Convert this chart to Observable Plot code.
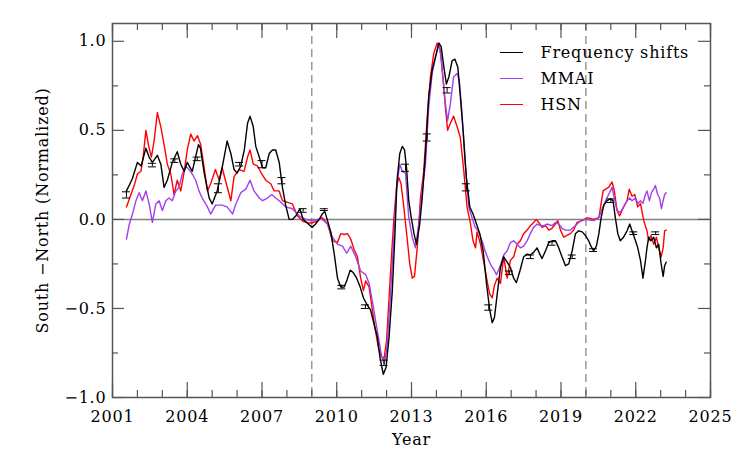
<!DOCTYPE html>
<html>
<head>
<meta charset="utf-8">
<script src="https://cdn.jsdelivr.net/npm/d3@7"></script>
<script src="https://cdn.jsdelivr.net/npm/@observablehq/plot@0.6"></script>
<style>
  html, body { margin: 0; padding: 0; background: #fff; }
  #chart svg { display: block; }
  #chart svg text { letter-spacing: 0.8px; }
</style>
</head>
<body>
<div id="chart"></div>
<script>
// ---- Data ----
const seriesNames = ["Frequency shifts", "MMAI", "HSN"];
const seriesColors = ["#000000", "#a040f0", "#ff0000"];

const freqYears = [2001.56,2001.7,2001.8,2002.0,2002.15,2002.34,2002.47,2002.6,2002.8,2002.94,2003.07,2003.2,2003.4,2003.6,2003.74,2003.88,2004.0,2004.2,2004.45,2004.53,2004.68,2004.88,2005.0,2005.2,2005.4,2005.6,2005.75,2005.88,2006.0,2006.15,2006.29,2006.42,2006.52,2006.65,2006.75,2006.89,2007.02,2007.15,2007.29,2007.42,2007.55,2007.69,2007.82,2007.95,2008.09,2008.22,2008.36,2008.52,2008.65,2008.82,2009.01,2009.15,2009.29,2009.42,2009.52,2009.63,2009.76,2009.9,2010.03,2010.16,2010.3,2010.4,2010.54,2010.67,2010.8,2010.94,2011.07,2011.2,2011.36,2011.5,2011.63,2011.74,2011.87,2011.98,2012.1,2012.23,2012.33,2012.42,2012.53,2012.63,2012.72,2012.8,2012.89,2012.99,2013.1,2013.2,2013.33,2013.43,2013.56,2013.69,2013.83,2013.96,2014.1,2014.19,2014.3,2014.4,2014.5,2014.63,2014.74,2014.86,2014.96,2015.07,2015.2,2015.34,2015.47,2015.61,2015.74,2015.88,2016.01,2016.14,2016.24,2016.33,2016.44,2016.57,2016.7,2016.84,2016.97,2017.1,2017.21,2017.35,2017.5,2017.64,2017.77,2017.9,2018.04,2018.15,2018.24,2018.38,2018.51,2018.64,2018.78,2018.91,2019.04,2019.18,2019.31,2019.45,2019.58,2019.71,2019.85,2019.98,2020.11,2020.2,2020.31,2020.42,2020.52,2020.61,2020.72,2020.85,2020.98,2021.09,2021.18,2021.28,2021.38,2021.51,2021.65,2021.76,2021.85,2021.99,2022.08,2022.19,2022.29,2022.39,2022.45,2022.52,2022.61,2022.72,2022.83,2022.92,2023.02,2023.1,2023.16,2023.22];
const freqValues = [0.16,0.2,0.23,0.32,0.30,0.40,0.35,0.32,0.36,0.31,0.18,0.22,0.32,0.38,0.31,0.27,0.32,0.27,0.42,0.40,0.26,0.12,0.087,0.16,0.29,0.44,0.37,0.28,0.26,0.30,0.39,0.54,0.58,0.52,0.41,0.35,0.29,0.29,0.37,0.39,0.39,0.32,0.18,0.08,0.0,0.0,0.02,0.06,0.0,-0.02,-0.045,-0.026,0.0,0.03,0.045,-0.007,-0.07,-0.195,-0.33,-0.38,-0.38,-0.345,-0.285,-0.30,-0.33,-0.38,-0.44,-0.475,-0.51,-0.59,-0.66,-0.78,-0.87,-0.83,-0.66,-0.40,-0.10,0.22,0.37,0.41,0.39,0.29,0.105,0.01,-0.08,-0.14,-0.026,0.12,0.37,0.69,0.84,0.91,0.99,0.97,0.855,0.76,0.80,0.89,0.90,0.855,0.69,0.50,0.236,0.07,0.03,-0.026,-0.08,-0.18,-0.36,-0.51,-0.58,-0.55,-0.42,-0.27,-0.21,-0.24,-0.27,-0.33,-0.355,-0.29,-0.21,-0.195,-0.20,-0.185,-0.16,-0.195,-0.22,-0.176,-0.13,-0.12,-0.12,-0.16,-0.21,-0.26,-0.25,-0.176,-0.08,-0.064,-0.07,-0.09,-0.12,-0.15,-0.176,-0.15,-0.08,0.01,0.08,0.105,0.115,0.105,0.01,-0.08,-0.12,-0.10,-0.064,-0.026,-0.064,-0.12,-0.16,-0.23,-0.33,-0.23,-0.16,-0.10,-0.12,-0.10,-0.16,-0.14,-0.25,-0.32,-0.26,-0.24];

const mmaiYears = [2001.56,2001.67,2001.8,2001.94,2002.07,2002.2,2002.34,2002.47,2002.6,2002.74,2002.87,2003.0,2003.14,2003.27,2003.4,2003.54,2003.67,2003.8,2003.94,2004.07,2004.2,2004.34,2004.47,2004.6,2004.81,2004.94,2005.14,2005.4,2005.6,2005.82,2005.95,2006.15,2006.35,2006.52,2006.68,2006.89,2007.02,2007.22,2007.39,2007.55,2007.76,2007.95,2008.22,2008.49,2008.75,2009.02,2009.23,2009.42,2009.63,2009.83,2010.03,2010.23,2010.4,2010.56,2010.76,2010.96,2011.16,2011.3,2011.43,2011.56,2011.67,2011.79,2011.9,2012.0,2012.14,2012.27,2012.4,2012.53,2012.63,2012.76,2012.89,2013.03,2013.16,2013.29,2013.43,2013.56,2013.69,2013.83,2013.96,2014.1,2014.2,2014.36,2014.45,2014.56,2014.69,2014.83,2014.92,2015.03,2015.16,2015.3,2015.43,2015.56,2015.7,2015.83,2015.96,2016.1,2016.2,2016.3,2016.41,2016.54,2016.7,2016.84,2016.97,2017.1,2017.24,2017.37,2017.5,2017.64,2017.77,2017.9,2018.04,2018.17,2018.31,2018.44,2018.64,2018.78,2018.91,2019.04,2019.18,2019.38,2019.58,2019.78,2019.98,2020.31,2020.52,2020.65,2020.79,2020.91,2021.05,2021.14,2021.25,2021.38,2021.51,2021.65,2021.76,2021.85,2021.99,2022.08,2022.19,2022.29,2022.39,2022.45,2022.55,2022.63,2022.72,2022.79,2022.88,2022.96,2023.03,2023.1,2023.16,2023.22];
const mmaiValues = [-0.11,-0.03,0.03,0.105,0.15,0.105,0.16,0.087,-0.017,0.087,0.105,0.05,0.105,0.12,0.105,0.16,0.18,0.255,0.30,0.28,0.255,0.22,0.16,0.12,0.07,0.03,0.08,0.08,0.07,0.03,0.087,0.15,0.17,0.22,0.16,0.12,0.105,0.12,0.14,0.12,0.096,0.07,0.06,0.02,0.0,-0.01,0.0,0.0,-0.026,-0.10,-0.14,-0.15,-0.19,-0.15,-0.21,-0.29,-0.31,-0.36,-0.46,-0.57,-0.66,-0.76,-0.81,-0.74,-0.46,-0.15,0.18,0.31,0.27,0.26,0.01,-0.10,-0.16,-0.026,0.16,0.31,0.63,0.82,0.91,0.99,0.89,0.65,0.555,0.65,0.80,0.82,0.78,0.59,0.31,0.07,0.01,-0.045,-0.07,-0.12,-0.18,-0.23,-0.26,-0.28,-0.31,-0.27,-0.20,-0.176,-0.13,-0.12,-0.14,-0.16,-0.15,-0.12,-0.08,-0.045,-0.026,-0.035,-0.035,-0.026,-0.035,-0.017,-0.026,-0.05,-0.06,-0.06,-0.035,-0.007,0.0,-0.007,0.01,0.06,0.105,0.14,0.18,0.12,0.05,0.04,0.07,0.105,0.12,0.105,0.12,0.09,0.105,0.09,0.14,0.16,0.105,0.15,0.17,0.19,0.14,0.12,0.06,0.105,0.14,0.15];

const hsnYears = [2001.56,2001.74,2001.87,2002.0,2002.14,2002.23,2002.34,2002.44,2002.56,2002.67,2002.8,2002.94,2003.07,2003.2,2003.34,2003.47,2003.6,2003.74,2003.88,2004.0,2004.14,2004.27,2004.41,2004.54,2004.68,2004.81,2004.94,2005.13,2005.28,2005.4,2005.55,2005.75,2005.88,2006.08,2006.28,2006.42,2006.52,2006.65,2006.82,2006.99,2007.15,2007.35,2007.49,2007.69,2007.82,2008.02,2008.22,2008.42,2008.62,2008.82,2009.02,2009.2,2009.42,2009.63,2009.83,2010.03,2010.16,2010.3,2010.43,2010.56,2010.7,2010.83,2010.96,2011.07,2011.16,2011.3,2011.43,2011.56,2011.67,2011.79,2011.9,2012.0,2012.1,2012.2,2012.3,2012.4,2012.49,2012.58,2012.69,2012.82,2012.93,2013.03,2013.12,2013.23,2013.36,2013.49,2013.63,2013.76,2013.89,2014.03,2014.16,2014.27,2014.36,2014.45,2014.56,2014.69,2014.83,2014.96,2015.1,2015.23,2015.36,2015.47,2015.57,2015.63,2015.77,2015.9,2016.04,2016.14,2016.24,2016.33,2016.44,2016.57,2016.7,2016.84,2016.97,2017.1,2017.24,2017.37,2017.5,2017.64,2017.77,2017.9,2018.01,2018.11,2018.24,2018.38,2018.51,2018.64,2018.78,2018.87,2018.98,2019.11,2019.24,2019.38,2019.51,2019.64,2019.85,2020.05,2020.31,2020.52,2020.61,2020.69,2020.79,2020.91,2021.05,2021.14,2021.25,2021.35,2021.48,2021.65,2021.74,2021.85,2021.96,2022.08,2022.19,2022.32,2022.45,2022.52,2022.61,2022.72,2022.83,2022.92,2023.02,2023.1,2023.16,2023.22];
const hsnValues = [0.07,0.14,0.19,0.255,0.27,0.35,0.50,0.42,0.35,0.44,0.60,0.52,0.42,0.31,0.255,0.14,0.22,0.16,0.27,0.39,0.48,0.44,0.47,0.42,0.29,0.16,0.20,0.28,0.22,0.29,0.21,0.105,0.24,0.28,0.27,0.35,0.39,0.31,0.30,0.255,0.22,0.20,0.16,0.16,0.105,0.096,0.087,0.02,-0.008,-0.02,-0.02,-0.01,0.01,-0.026,-0.12,-0.13,-0.08,-0.085,-0.08,-0.11,-0.17,-0.21,-0.33,-0.40,-0.345,-0.38,-0.51,-0.63,-0.72,-0.77,-0.78,-0.68,-0.44,-0.20,0.02,0.18,0.236,0.20,0.07,-0.10,-0.25,-0.33,-0.32,-0.16,0.12,0.27,0.57,0.80,0.93,0.99,0.95,0.78,0.63,0.50,0.54,0.58,0.52,0.46,0.27,0.07,-0.02,-0.12,-0.16,-0.07,-0.14,-0.24,-0.35,-0.42,-0.44,-0.37,-0.33,-0.36,-0.21,-0.33,-0.23,-0.21,-0.14,-0.12,-0.08,-0.06,-0.035,-0.017,0.0,-0.017,-0.045,-0.035,-0.06,-0.05,-0.026,-0.007,-0.06,-0.10,-0.09,-0.08,-0.06,-0.017,-0.007,0.01,0.0,0.01,0.09,0.16,0.17,0.18,0.21,0.16,0.05,0.02,0.06,0.105,0.17,0.13,0.14,0.07,0.09,-0.007,-0.064,-0.12,-0.09,-0.14,-0.10,-0.16,-0.21,-0.16,-0.064,-0.06];

// error bars on the frequency-shift curve
const errYears = [2001.56,2002.6,2003.5,2004.4,2005.25,2006.1,2007.0,2007.8,2008.65,2009.5,2010.2,2011.15,2011.9,2012.76,2013.63,2014.43,2015.2,2016.1,2016.93,2017.77,2018.64,2019.45,2020.3,2021.0,2021.92,2022.8];
const errLow  = [0.12,0.295,0.32,0.33,0.15,0.30,0.29,0.20,0.04,0.05,-0.39,-0.50,-0.82,0.27,0.44,0.71,0.16,-0.51,-0.31,-0.22,-0.145,-0.22,-0.18,0.095,-0.085,-0.085];
const errHigh = [0.155,0.315,0.34,0.35,0.20,0.32,0.33,0.235,0.06,0.06,-0.37,-0.48,-0.79,0.31,0.48,0.74,0.20,-0.48,-0.29,-0.20,-0.125,-0.20,-0.165,0.115,-0.07,-0.07];

const xMajorTicks = [2001,2004,2007,2010,2013,2016,2019,2022,2025];
const xMinorTicks = d3.range(2001, 2026, 1);
const yMajorTicks = [-1.0,-0.5,0.0,0.5,1.0];
const yMinorTicks = [-0.75,-0.25,0.25,0.75];
const cycleBoundaries = [2009, 2020];

const xLabel = "Year";
const yLabel = "South −North (Normalized)";

// ---- Layout ----
const W = 747, H = 467;
const mL = 112, mR = 37, mT = 23, mB = 70;
const innerW = W - mL - mR, innerH = H - mT - mB;
const xDomain = [2001, 2025], yDomain = [-1.0, 1.1];
const FONT = "DejaVu Serif, Liberation Serif, serif";
const axisGray = "#555555";

const toRows = (ys, vs, name) => ys.map((y, i) => ({year: y, value: vs[i], series: name}));
const allRows = [
  ...toRows(freqYears, freqValues, seriesNames[0]),
  ...toRows(mmaiYears, mmaiValues, seriesNames[1]),
  ...toRows(hsnYears, hsnValues, seriesNames[2])
];
const errRows = errYears.map((y, i) => ({year: y, lo: errLow[i], hi: errHigh[i]}));

// helper for placing the legend (pixel -> data, same mapping as Plot)
const px2x = d3.scaleLinear().domain([mL, mL + innerW]).range(xDomain);
const px2y = d3.scaleLinear().domain([mT + innerH, mT]).range(yDomain);
const legendRows = seriesNames.map((n, i) => ({
  name: n, color: seriesColors[i],
  x1: px2x(500), x2: px2x(523), xt: px2x(540), y: px2y(52 + i * 26)
}));

const xMaj = 15, xMin = 7, yMaj = 12, yMin = 6;
const capHalf = 0.16;

const chart = Plot.plot({
  width: W, height: H,
  marginLeft: mL, marginRight: mR, marginTop: mT, marginBottom: mB,
  x: {domain: xDomain},
  y: {domain: yDomain},
  style: {fontFamily: FONT, fontSize: "16px", color: "#000", background: "#fff"},
  marks: [
    Plot.ruleY([0], {stroke: "#808080", strokeWidth: 1.5}),
    Plot.ruleX(cycleBoundaries, {stroke: "#666", strokeWidth: 1, strokeDasharray: "8,5"}),
    Plot.line(allRows.filter(d => d.series === seriesNames[2]), {x: "year", y: "value", stroke: seriesColors[2], strokeWidth: 1.4}),
    Plot.line(allRows.filter(d => d.series === seriesNames[1]), {x: "year", y: "value", stroke: seriesColors[1], strokeWidth: 1.4}),
    Plot.line(allRows.filter(d => d.series === seriesNames[0]), {x: "year", y: "value", stroke: seriesColors[0], strokeWidth: 1.4}),
    Plot.ruleX(errRows, {x: "year", y1: "lo", y2: "hi", stroke: "#000", strokeWidth: 1}),
    Plot.ruleY(errRows, {y: "lo", x1: d => d.year - capHalf, x2: d => d.year + capHalf, stroke: "#000", strokeWidth: 1}),
    Plot.ruleY(errRows, {y: "hi", x1: d => d.year - capHalf, x2: d => d.year + capHalf, stroke: "#000", strokeWidth: 1}),
    Plot.tickX(xMajorTicks, {x: d => d, insetTop: innerH - xMaj, stroke: axisGray, strokeWidth: 1.2}),
    Plot.tickX(xMinorTicks, {x: d => d, insetTop: innerH - xMin, stroke: axisGray, strokeWidth: 1.2}),
    Plot.tickX(xMajorTicks, {x: d => d, insetBottom: innerH - xMaj, stroke: axisGray, strokeWidth: 1.2}),
    Plot.tickX(xMinorTicks, {x: d => d, insetBottom: innerH - xMin, stroke: axisGray, strokeWidth: 1.2}),
    Plot.tickY(yMajorTicks, {y: d => d, insetRight: innerW - yMaj, stroke: axisGray, strokeWidth: 1.2}),
    Plot.tickY(yMinorTicks, {y: d => d, insetRight: innerW - yMin, stroke: axisGray, strokeWidth: 1.2}),
    Plot.tickY(yMajorTicks, {y: d => d, insetLeft: innerW - yMaj, stroke: axisGray, strokeWidth: 1.2}),
    Plot.tickY(yMinorTicks, {y: d => d, insetLeft: innerW - yMin, stroke: axisGray, strokeWidth: 1.2}),
    Plot.axisX({ticks: xMajorTicks, tickSize: 0, tickPadding: 13, tickFormat: d => String(d), label: null, fontSize: 16}),
    Plot.axisY({ticks: yMajorTicks, tickSize: 0, tickPadding: 6, tickFormat: d => d3.format(".1f")(d).replace("-", "−"), label: null, fontSize: 16}),
    Plot.text([xLabel], {frameAnchor: "bottom", dy: 42, lineAnchor: "middle", fontSize: 16, fill: "#000"}),
    Plot.text([yLabel], {frameAnchor: "left", dx: -70, rotate: -90, lineAnchor: "middle", textAnchor: "middle", fontSize: 16, fill: "#000"}),
    Plot.ruleY(legendRows, {y: "y", x1: "x1", x2: "x2", stroke: "color", strokeWidth: 1}),
    Plot.text(legendRows, {x: "xt", y: "y", text: "name", textAnchor: "start", lineAnchor: "middle", fontSize: 16, fill: "#000"}),
    Plot.frame({stroke: axisGray, strokeWidth: 1.5})
  ]
});
document.getElementById("chart").appendChild(chart);
</script>
</body>
</html>
